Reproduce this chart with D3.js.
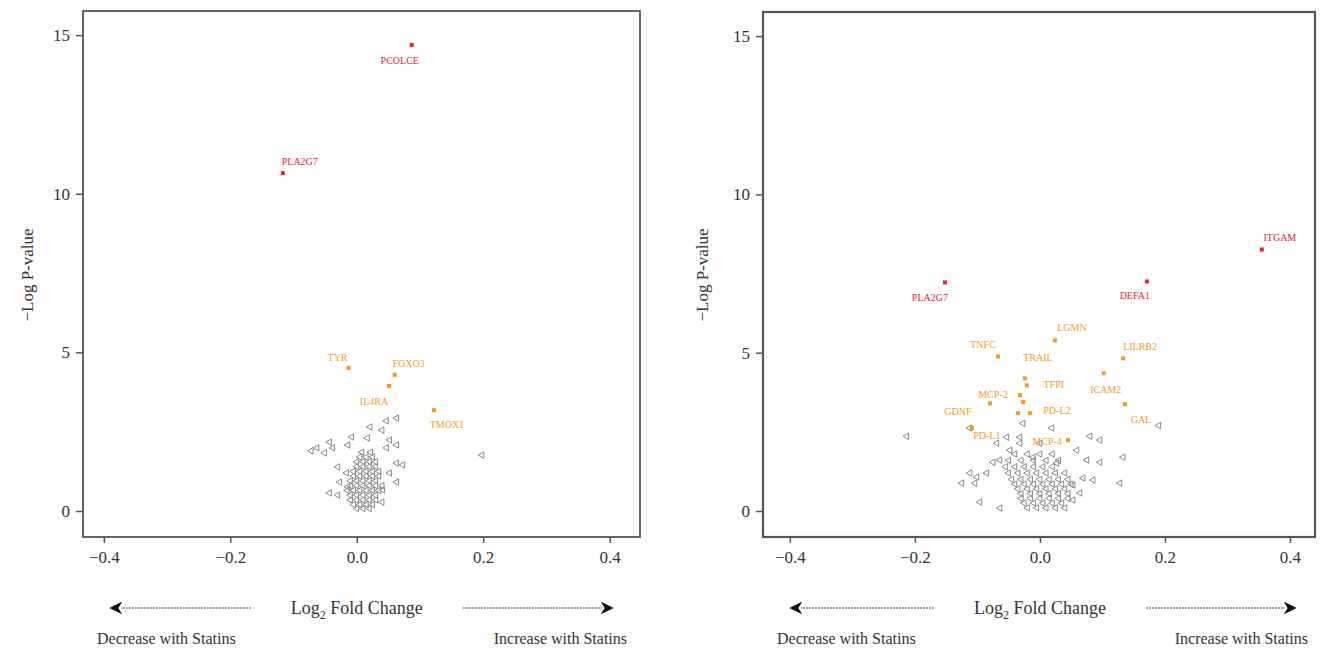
<!DOCTYPE html>
<html>
<head>
<meta charset="utf-8">
<script src="https://cdnjs.cloudflare.com/ajax/libs/d3/7.8.5/d3.min.js"></script>
<style>
  body { margin: 0; background: #fff; }
  text { font-family: "Liberation Serif", "DejaVu Serif", serif; fill: #333; }
</style>
</head>
<body>
<svg id="chart" width="1320" height="650"></svg>
<script>
// ---- data ----
const xTicks = [-0.4, -0.2, 0.0, 0.2, 0.4];
const yTicks = [0, 5, 10, 15];

// left panel: named proteins [name, log2FC, -logP, colour group]
const leftHits = [
  ["PCOLCE", 0.087, 14.69, "red"],
  ["PLA2G7", -0.117, 10.65, "red"],
  ["TYR", -0.013, 4.51, "orange"],
  ["FOXO3", 0.060, 4.29, "orange"],
  ["IL4RA", 0.051, 3.94, "orange"],
  ["TMOX1", 0.122, 3.18, "orange"]
];
// left panel: background proteins [log2FC, -logP]
const leftRest = [
  [0.047,2.84],[0.063,2.93],[0.021,2.65],[0.040,2.55],[-0.008,2.33],[0.017,2.30],[0.052,2.24],
  [-0.043,2.17],[-0.063,1.99],[-0.051,1.83],[-0.038,1.99],[-0.014,2.08],[0.047,1.99],[0.063,2.08],
  [0.063,1.51],[0.073,1.45],[0.052,1.20],[0.063,0.91],[-0.030,1.39],[-0.016,1.20],[-0.027,0.91],
  [-0.043,0.57],[-0.030,0.50],[-0.014,0.76],[0.041,0.66],[0.040,0.28],[0.198,1.76],[-0.072,1.90],
  [0.008,1.85],[0.022,1.85],
  [0.005,1.7],[0.015,1.7],[0.025,1.7],
  [0.0,1.55],[0.01,1.55],[0.02,1.55],[0.03,1.55],
  [0.0,1.4],[0.01,1.4],[0.02,1.4],[0.03,1.4],
  [-0.005,1.25],[0.005,1.25],[0.015,1.25],[0.025,1.25],[0.035,1.25],
  [-0.005,1.1],[0.005,1.1],[0.015,1.1],[0.025,1.1],[0.035,1.1],
  [-0.01,0.95],[0.0,0.95],[0.01,0.95],[0.02,0.95],[0.03,0.95],
  [-0.01,0.8],[0.0,0.8],[0.01,0.8],[0.02,0.8],[0.03,0.8],[0.04,0.8],
  [-0.015,0.65],[-0.005,0.65],[0.005,0.65],[0.015,0.65],[0.025,0.65],[0.035,0.65],
  [-0.01,0.5],[0.0,0.5],[0.01,0.5],[0.02,0.5],[0.03,0.5],
  [-0.01,0.35],[0.0,0.35],[0.01,0.35],[0.02,0.35],[0.03,0.35],
  [-0.005,0.2],[0.005,0.2],[0.015,0.2],[0.025,0.2],
  [0.0,0.08],[0.01,0.08],[0.02,0.08]
];

// right panel
const rightHits = [
  ["ITGAM", 0.355, 8.26, "red"],
  ["PLA2G7", -0.152, 7.22, "red"],
  ["DEFA1", 0.171, 7.25, "red"],
  ["LGMN", 0.024, 5.39, "orange"],
  ["TNFC", -0.067, 4.88, "orange"],
  ["LILRB2", 0.133, 4.82, "orange"],
  ["ICAM2", 0.102, 4.35, "orange"],
  ["TRAIL", -0.024, 4.19, "orange"],
  ["TFPI", -0.021, 3.97, "orange"],
  ["MCP-2", -0.032, 3.66, "orange"],
  ["GDNF", -0.080, 3.40, "orange"],
  ["GAL", 0.136, 3.37, "orange"],
  ["PD-L2", -0.016, 3.09, "orange"],
  ["PD-L1", -0.109, 2.62, "orange"],
  ["MCP-4", 0.045, 2.24, "orange"]
];
const rightExtra = [[-0.027,3.44],[-0.035,3.09]]; // unlabelled orange points
const rightRest = [
  [-0.213,2.36],[-0.112,2.62],[0.019,2.62],[0.080,2.36],[0.133,1.70],[-0.075,1.54],[-0.064,1.61],
  [0.027,1.51],[0.059,1.92],[0.075,1.61],[0.096,1.54],[-0.112,1.20],[-0.125,0.88],[-0.104,0.88],
  [-0.096,0.28],[-0.064,0.09],[0.069,1.04],[0.085,0.98],[0.053,0.35],[0.064,0.57],[-0.085,1.20],
  [-0.101,1.07],[-0.048,1.92],[-0.032,2.14],[-0.032,2.33],[-0.027,2.77],[0.0,2.14],[-0.011,1.70],
  [-0.053,2.33],[-0.069,2.14],[0.128,0.88],[0.053,0.82],[0.19,2.7],[0.096,2.24],
  [-0.04,1.8],[-0.02,1.8],[0.0,1.8],[0.02,1.8],
  [-0.05,1.6],[-0.03,1.6],[-0.01,1.6],[0.01,1.6],[0.03,1.6],
  [-0.055,1.4],[-0.04,1.4],[-0.025,1.4],[-0.01,1.4],[0.005,1.4],[0.02,1.4],
  [-0.05,1.2],[-0.035,1.2],[-0.02,1.2],[-0.005,1.2],[0.01,1.2],[0.025,1.2],[0.04,1.2],
  [-0.045,1.0],[-0.03,1.0],[-0.015,1.0],[0.0,1.0],[0.015,1.0],[0.03,1.0],[0.045,1.0],
  [-0.04,0.85],[-0.025,0.85],[-0.01,0.85],[0.005,0.85],[0.02,0.85],[0.035,0.85],[0.05,0.85],
  [-0.035,0.7],[-0.02,0.7],[-0.005,0.7],[0.01,0.7],[0.025,0.7],[0.04,0.7],
  [-0.03,0.55],[-0.015,0.55],[0.0,0.55],[0.015,0.55],[0.03,0.55],[0.045,0.55],
  [-0.03,0.4],[-0.015,0.4],[0.0,0.4],[0.015,0.4],[0.03,0.4],[0.045,0.4],
  [-0.025,0.25],[-0.01,0.25],[0.005,0.25],[0.02,0.25],[0.035,0.25],
  [-0.02,0.1],[-0.005,0.1],[0.01,0.1],[0.025,0.1],[0.04,0.1]
];

// label offsets in px (layout only)
const leftLabelPos = {
  "PCOLCE": [-12, 16], "PLA2G7": [17, -11], "TYR": [-11, -10], "FOXO3": [14, -11],
  "IL4RA": [-15, 16], "TMOX1": [13, 15]
};
const rightLabelPos = {
  "ITGAM": [18, -11], "PLA2G7": [-15, 16], "DEFA1": [-12, 15], "LGMN": [17, -12],
  "TNFC": [-15, -12], "LILRB2": [17, -11], "ICAM2": [2, 17], "TRAIL": [13, -20],
  "TFPI": [27, 0], "MCP-2": [-27, 0], "GDNF": [-32, 9], "GAL": [16, 16],
  "PD-L2": [27, -2], "PD-L1": [15, 8], "MCP-4": [-21, 2]
};

const colours = { red: "#ec2233", orange: "#f39c1c" };
const svg = d3.select("#chart");

function drawPanel(cfg) {
  const x = d3.scaleLinear().domain(cfg.xDomain).range([cfg.left, cfg.right]);
  const y = d3.scaleLinear().domain([-0.82, 15.76]).range([537, cfg.top]);
  const g = svg.append("g");

  // frame
  g.append("rect")
    .attr("x", cfg.left).attr("y", cfg.top)
    .attr("width", cfg.right - cfg.left).attr("height", 537 - cfg.top)
    .attr("fill", "none").attr("stroke", "#555").attr("stroke-width", cfg.frameW);

  // axes
  const yAxis = g.append("g")
    .attr("transform", "translate(" + cfg.left + ",0)")
    .call(d3.axisLeft(y).tickValues(yTicks).tickSize(7).tickPadding(6).tickFormat(d3.format("d")));
  const xAxis = g.append("g")
    .attr("transform", "translate(0,537)")
    .call(d3.axisBottom(x).tickValues(xTicks).tickSize(6).tickPadding(8)
      .tickFormat(d => d3.format(".1f")(d).replace("-", "\u2212")));
  [xAxis, yAxis].forEach(a => {
    a.select(".domain").remove();
    a.selectAll("line").attr("stroke", "#555").attr("stroke-width", 1.5);
    a.selectAll("text").style("font-family", "Liberation Serif, serif").style("font-size", "17px").attr("fill", "#444");
  });

  // y title
  g.append("text")
    .attr("transform", "translate(" + cfg.yTitleX + ",275) rotate(-90)")
    .attr("text-anchor", "middle").style("font-size", "17px")
    .text("\u2212Log P-value");

  // background proteins
  g.selectAll("path.bg").data(cfg.rest).enter().append("path")
    .attr("class", "bg")
    .attr("d", d3.symbol().type(d3.symbolTriangle).size(18))
    .attr("transform", d => "translate(" + x(d[0]) + "," + y(d[1]) + ") rotate(-90)")
    .attr("fill", "none").attr("stroke", "#8a8a8a").attr("stroke-width", 1);

  // extra coloured points
  g.selectAll("rect.ex").data(cfg.extra).enter().append("rect")
    .attr("class", "ex")
    .attr("x", d => x(d[0]) - 2).attr("y", d => y(d[1]) - 2)
    .attr("width", 4).attr("height", 4).attr("fill", colours.orange);

  // named proteins
  const hits = g.selectAll("g.hit").data(cfg.hits).enter().append("g").attr("class", "hit");
  hits.append("rect")
    .attr("x", d => x(d[1]) - 2).attr("y", d => y(d[2]) - 2)
    .attr("width", 4).attr("height", 4)
    .attr("fill", d => colours[d[3]]);
  hits.append("text")
    .attr("x", d => x(d[1]) + cfg.labelPos[d[0]][0])
    .attr("y", d => y(d[2]) + cfg.labelPos[d[0]][1] + 3)
    .attr("text-anchor", "middle")
    .style("font-size", "10px")
    .style("fill", d => colours[d[3]])
    .text(d => d[0]);

  // bottom arrow caption
  const midX = x(0);
  const capY = 608;
  const cap = g.append("text")
    .attr("x", midX).attr("y", capY + 6)
    .attr("text-anchor", "middle").style("font-size", "18px").attr("fill", "#333");
  cap.append("tspan").text("Log");
  cap.append("tspan").attr("dy", 5).style("font-size", "12px").text("2");
  cap.append("tspan").attr("dy", -5).text(" Fold Change");
  const half = 92;
  g.append("line")
    .attr("x1", midX - half - 14).attr("x2", cfg.left + 38).attr("y1", capY).attr("y2", capY)
    .attr("stroke", "#444").attr("stroke-width", 1.2).attr("stroke-dasharray", "2,1")
    .attr("marker-end", "url(#arrow)");
  g.append("line")
    .attr("x1", midX + half + 14).attr("x2", cfg.right - cfg.arrowR).attr("y1", capY).attr("y2", capY)
    .attr("stroke", "#444").attr("stroke-width", 1.2).attr("stroke-dasharray", "2,1")
    .attr("marker-end", "url(#arrow)");
  g.append("text").attr("x", cfg.left + 14).attr("y", 644)
    .style("font-size", "16px").text("Decrease with Statins");
  g.append("text").attr("x", cfg.right - cfg.incR).attr("y", 644)
    .attr("text-anchor", "end").style("font-size", "16px").text("Increase with Statins");
}

svg.append("defs").append("marker")
  .attr("id", "arrow").attr("viewBox", "0 0 10 10")
  .attr("refX", 1).attr("refY", 5)
  .attr("markerWidth", 13).attr("markerHeight", 13)
  .attr("markerUnits", "userSpaceOnUse")
  .attr("orient", "auto")
  .append("path").attr("d", "M0,0 L10,5 L0,10 L3,5 Z").attr("fill", "#111");

drawPanel({
  left: 83, right: 640, top: 11, xDomain: [-0.433, 0.448], frameW: 1.8,
  hits: leftHits, rest: leftRest, extra: [], labelPos: leftLabelPos,
  yTitleX: 33, arrowR: 38, incR: 13
});
drawPanel({
  left: 763, right: 1315, top: 12, xDomain: [-0.443, 0.44], frameW: 2.2,
  hits: rightHits, rest: rightRest, extra: rightExtra, labelPos: rightLabelPos,
  yTitleX: 708, arrowR: 30, incR: 7
});
</script>
</body>
</html>
